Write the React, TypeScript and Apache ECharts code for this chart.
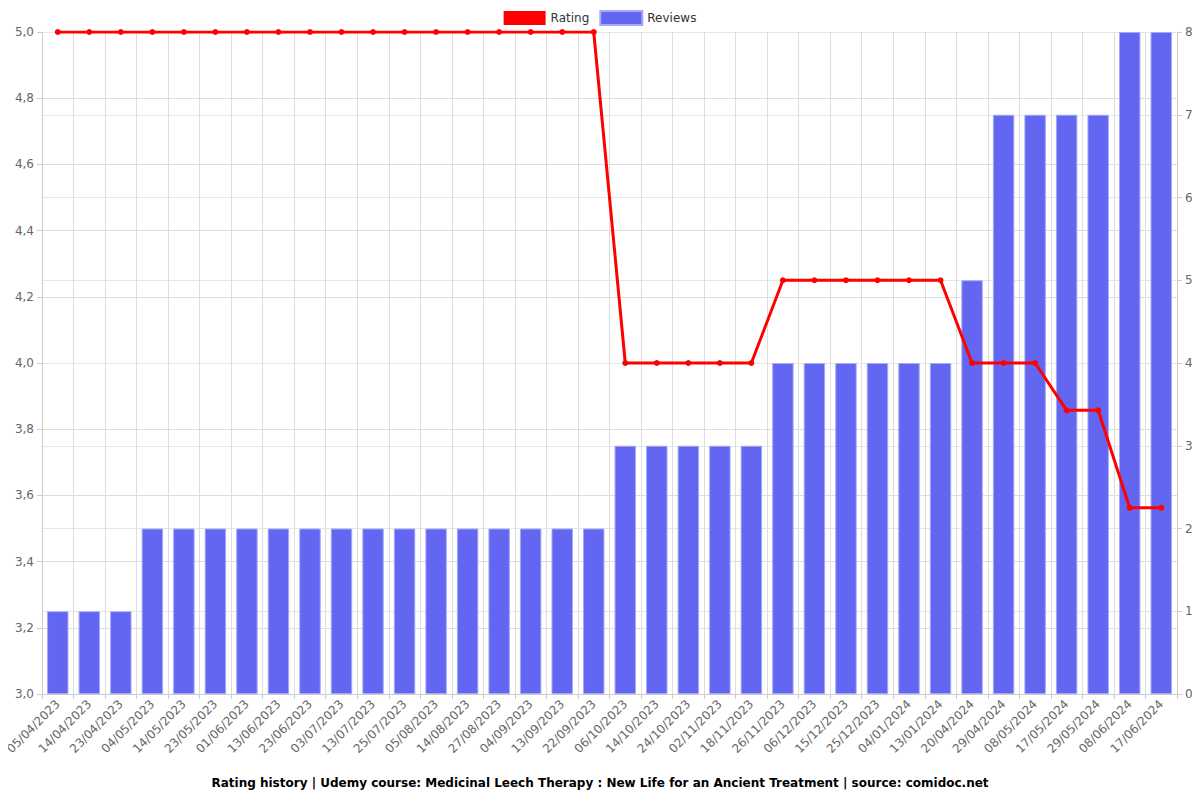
import React, { useEffect, useRef } from "react";
import * as echarts from "echarts";

const categories = [
  "05/04/2023", "14/04/2023", "23/04/2023", "04/05/2023", "14/05/2023", "23/05/2023",
  "01/06/2023", "13/06/2023", "23/06/2023", "03/07/2023", "13/07/2023", "25/07/2023",
  "05/08/2023", "14/08/2023", "27/08/2023", "04/09/2023", "13/09/2023", "22/09/2023",
  "06/10/2023", "14/10/2023", "24/10/2023", "02/11/2023", "18/11/2023", "26/11/2023",
  "06/12/2023", "15/12/2023", "25/12/2023", "04/01/2024", "13/01/2024", "20/04/2024",
  "29/04/2024", "08/05/2024", "17/05/2024", "29/05/2024", "08/06/2024", "17/06/2024",
];

const ratings = [
  5, 5, 5, 5, 5, 5, 5, 5, 5, 5, 5, 5, 5, 5, 5, 5, 5, 5,
  4, 4, 4, 4, 4,
  4.25, 4.25, 4.25, 4.25, 4.25, 4.25,
  4, 4, 4,
  3.857, 3.857,
  3.5625, 3.5625,
];

const reviews = [
  1, 1, 1, 2, 2, 2, 2, 2, 2, 2, 2, 2, 2, 2, 2, 2, 2, 2,
  3, 3, 3, 3, 3,
  4, 4, 4, 4, 4, 4,
  5,
  7, 7, 7, 7,
  8, 8,
];

const titleText =
  "Rating history | Udemy course: Medicinal Leech Therapy : New Life for an Ancient Treatment | source: comidoc.net";

export default function App() {
  const ref = useRef<HTMLDivElement>(null);
  useEffect(() => {
    if (!ref.current) return;
    const chart = echarts.init(ref.current, undefined, { renderer: "svg" });
    const font = "DejaVu Sans";
    chart.setOption({
      animation: false,
      textStyle: { fontFamily: font },
      title: {
        text: titleText,
        left: "center",
        bottom: 6,
        textStyle: { fontSize: 12, fontWeight: "bold", color: "#000", fontFamily: font },
      },
      legend: {
        top: 5,
        left: "center",
        itemWidth: 42,
        itemHeight: 14,
        itemGap: 10,
        textStyle: { fontSize: 12, color: "#333", fontFamily: font },
        data: [
          { name: "Rating", icon: "rect", itemStyle: { color: "#ff0000" } },
          { name: "Reviews", icon: "rect", itemStyle: { color: "#6366f1" } },
        ],
      },
      grid: { left: 42, right: 23, top: 32, bottom: 106, containLabel: false },
      xAxis: {
        type: "category",
        data: categories,
        boundaryGap: true,
        axisLine: { lineStyle: { color: "#ccc" } },
        axisTick: { show: true, alignWithLabel: false, lineStyle: { color: "#ccc" } },
        axisLabel: { rotate: 45, color: "#666", fontSize: 12, interval: 0, margin: 8, fontFamily: font },
        splitLine: { show: true, lineStyle: { color: "#ddd" } },
      },
      yAxis: [
        {
          type: "value",
          min: 3,
          max: 5,
          interval: 0.2,
          position: "left",
          axisLine: { show: true, lineStyle: { color: "#ccc" } },
          axisTick: { show: true, lineStyle: { color: "#ccc" } },
          axisLabel: {
            color: "#666",
            fontSize: 12,
            fontFamily: font,
            formatter: (v: number) => v.toFixed(1).replace(".", ","),
          },
          splitLine: { show: true, lineStyle: { color: "#ddd" } },
        },
        {
          type: "value",
          min: 0,
          max: 8,
          interval: 1,
          position: "right",
          axisLine: { show: true, lineStyle: { color: "#ccc" } },
          axisTick: { show: true, lineStyle: { color: "#ccc" } },
          axisLabel: { color: "#666", fontSize: 12, fontFamily: font },
          splitLine: { show: true, lineStyle: { color: "#e6e6e6" } },
        },
      ],
      series: [
        {
          name: "Rating",
          type: "line",
          yAxisIndex: 0,
          data: ratings,
          z: 3,
          symbol: "circle",
          symbolSize: 6,
          lineStyle: { color: "#ff0000", width: 3 },
          itemStyle: { color: "#ff0000" },
        },
        {
          name: "Reviews",
          type: "bar",
          yAxisIndex: 1,
          data: reviews,
          z: 2,
          barCategoryGap: "32%",
          itemStyle: { color: "#6366f1", borderColor: "#a5a8f8", borderWidth: 1 },
        },
      ],
    });
    return () => chart.dispose();
  }, []);
  return <div ref={ref} style={{ width: 1200, height: 800, margin: -8 }} />;
}
